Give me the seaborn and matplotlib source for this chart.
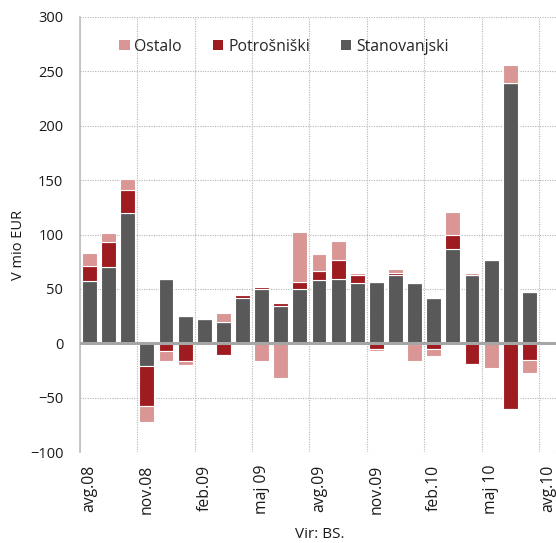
import numpy as np
import pandas as pd
import matplotlib
matplotlib.use("Agg")
import matplotlib.pyplot as plt
from matplotlib.patches import Patch
import seaborn as sns

months = ["avg.08", "sep.08", "okt.08", "nov.08", "dec.08", "jan.09", "feb.09", "mar.09",
          "apr.09", "maj 09", "jun.09", "jul.09", "avg.09", "sep.09", "okt.09", "nov.09",
          "dec.09", "jan.10", "feb.10", "mar.10", "apr.10", "maj 10", "jun.10", "jul.10"]
stanovanjski = [57, 70, 120, -21, 59, 25, 22, 20, 42, 50, 34, 50, 58, 59, 55, 56, 63, 55, 42, 87, 63, 77, 239, 47]
potrosniski = [14, 23, 21, -37, -7, -16, 0, -11, 2, 2, 3, 6, 8, 18, 8, -5, 2, -1, -5, 13, -19, 0, -60, -15]
ostalo = [12, 8, 10, -14, -9, -4, -2, 8, -2, -16, -32, 46, 16, 17, 2, -2, 3, -15, -7, 21, 1.5, -23, 17, -12]
tick_labels = ["avg.08", "nov.08", "feb.09", "maj 09", "avg.09", "nov.09", "feb.10", "maj 10", "avg.10"]
series_names = ["Stanovanjski", "Potrošniški", "Ostalo"]
colors = {"Stanovanjski": "#595959", "Potrošniški": "#9e1b20", "Ostalo": "#d99694"}

sns.set_theme(style="white")
plt.rcParams["font.family"] = ["Open Sans", "DejaVu Sans"]

df = pd.DataFrame({"mesec": months, "Stanovanjski": stanovanjski,
                   "Potrošniški": potrosniski, "Ostalo": ostalo})

fig = plt.figure(figsize=(5.56, 5.43), dpi=100)
ax = fig.add_axes([80 / 556, 1 - 452 / 543, 478 / 556, 435 / 543])

pos_bottom = np.zeros(len(months))
neg_bottom = np.zeros(len(months))
for name in series_names:
    vals = df[name].to_numpy(dtype=float)
    pos = np.where(vals > 0, vals, 0.0)
    neg = np.where(vals < 0, vals, 0.0)
    sns.barplot(x=df["mesec"], y=pos, order=months, color=colors[name], bottom=pos_bottom,
                width=0.78, edgecolor="white", linewidth=0.8, errorbar=None, saturation=1, ax=ax)
    sns.barplot(x=df["mesec"], y=neg, order=months, color=colors[name], bottom=neg_bottom,
                width=0.78, edgecolor="white", linewidth=0.8, errorbar=None, saturation=1, ax=ax)
    pos_bottom = pos_bottom + pos
    neg_bottom = neg_bottom + neg

ax.axhline(0, color="#a6a6a6", lw=2.2, zorder=5)

ax.set_ylim(-100, 300)
ax.set_yticks(np.arange(-100, 301, 50))
ax.set_xlim(-0.5, 24.5)
ax.set_xticks(np.arange(0, 25, 3))
ax.set_xticklabels(tick_labels, rotation=90, fontsize=11.3, color="#1a1a1a")
ax.set_xticks(np.arange(-0.5, 25, 3), minor=True)
ax.tick_params(axis="y", labelsize=10.5, length=0, pad=12, colors="#1a1a1a")
ax.tick_params(axis="x", which="both", length=0, pad=9)

grid_kw = dict(color="#b4b4b4", lw=0.8, linestyle=(0, (1, 1.2)))
ax.set_axisbelow(True)
ax.yaxis.grid(True, **grid_kw)
ax.xaxis.grid(True, which="minor", **grid_kw)
ax.xaxis.grid(False, which="major")

for s in ["top", "right", "bottom"]:
    ax.spines[s].set_visible(False)
ax.spines["left"].set_color("#bfbfbf")
ax.spines["left"].set_linewidth(1.2)

ax.set_xlabel("")
ax.set_ylabel("V mio EUR", fontsize=10.5, color="#1a1a1a")
ax.yaxis.set_label_coords(-0.112, 0.476)

fig.text(320 / 556, 1 - 534 / 543, "Vir: BS.", ha="center", va="center", fontsize=11, color="#1a1a1a")

handles = [Patch(facecolor=colors[n], edgecolor="none", label=n) for n in ["Ostalo", "Potrošniški", "Stanovanjski"]]
fig.legend(handles=handles, loc="center", bbox_to_anchor=(284 / 556, 1 - 46.7 / 543), ncol=3,
           frameon=False, fontsize=11.3, handlelength=0.65, handleheight=0.65,
           handletextpad=0.3, columnspacing=2.0, borderaxespad=0)

fig.savefig("out.png", dpi=100)
